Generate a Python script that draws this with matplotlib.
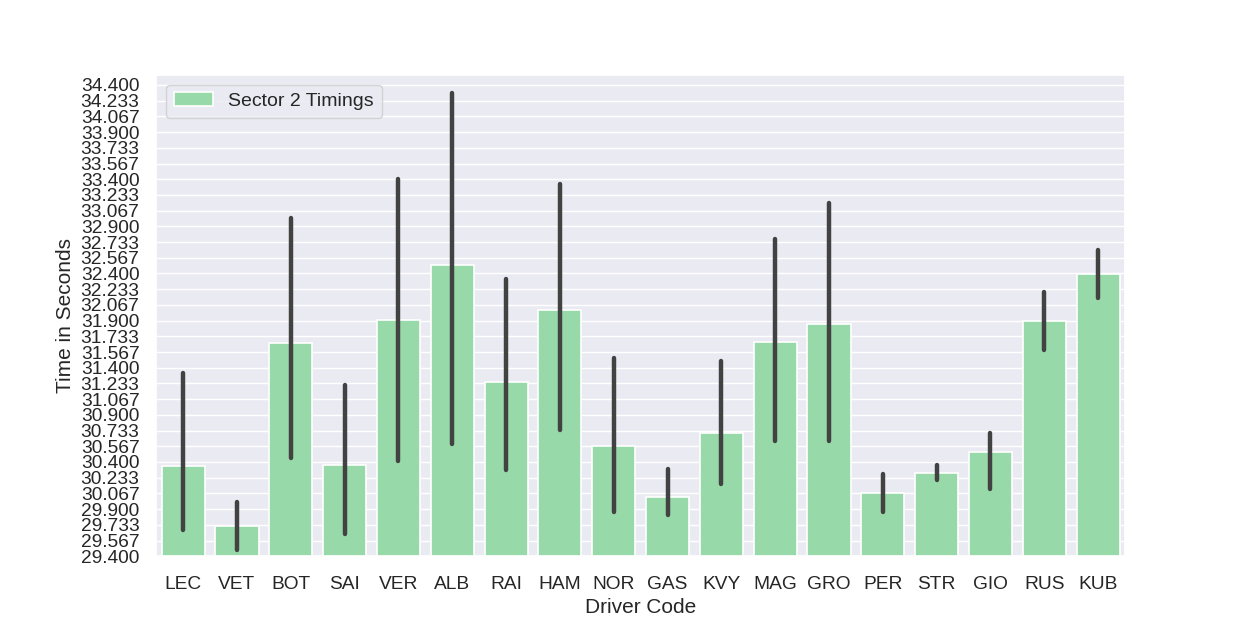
import numpy as np
import matplotlib
matplotlib.use("Agg")
import matplotlib.pyplot as plt
import seaborn as sns

drivers = ["LEC", "VET", "BOT", "SAI", "VER", "ALB", "RAI", "HAM", "NOR",
           "GAS", "KVY", "MAG", "GRO", "PER", "STR", "GIO", "RUS", "KUB"]
means = [30.353, 29.718, 31.667, 30.364, 31.911, 32.493, 31.254, 32.016, 30.565,
         30.025, 30.703, 31.678, 31.868, 30.067, 30.279, 30.502, 31.900, 32.398]
ci_low = [29.675, 29.464, 30.438, 29.633, 30.406, 30.586, 30.311, 30.735, 29.866,
          29.834, 30.163, 30.618, 30.618, 29.866, 30.205, 30.110, 31.593, 32.144]
ci_high = [31.349, 29.972, 32.991, 31.222, 33.404, 34.315, 32.345, 33.351, 31.508,
           30.322, 31.476, 32.769, 33.150, 30.269, 30.364, 30.703, 32.207, 32.652]
ytick_values = np.linspace(29.4, 34.4, 31)

sns.set_theme(style="darkgrid")
plt.rcParams['font.family'] = ['Liberation Sans', 'DejaVu Sans']

fig, ax = plt.subplots(figsize=(12.5, 6.25), dpi=100)
x = np.arange(len(drivers))
ax.bar(x, means, width=0.8, color="#97d9a8", edgecolor="white", linewidth=1.2,
       label="Sector 2 Timings", zorder=2)
for xi, lo, hi in zip(x, ci_low, ci_high):
    ax.plot([xi, xi], [lo, hi], color="#424242", linewidth=3.2,
            solid_capstyle="round", zorder=3)

ax.grid(axis="x", visible=False)
ax.set_xticks(x)
ax.set_xticklabels(drivers)
ax.set_xlim(-0.5, len(drivers) - 0.5)
ax.set_ylim(29.4, 34.506)
ax.set_yticks(ytick_values)
ax.set_yticklabels([f"{v:.3f}" for v in ytick_values])
ax.tick_params(axis="x", labelsize=13.8, pad=8)
ax.tick_params(axis="y", labelsize=13.8, pad=6)
ax.set_xlabel("Driver Code", fontsize=15, labelpad=4)
ax.set_ylabel("Time in Seconds", fontsize=15, labelpad=4)
ax.legend(loc="upper left", fontsize=14)

fig.savefig("out.png", dpi=100)
